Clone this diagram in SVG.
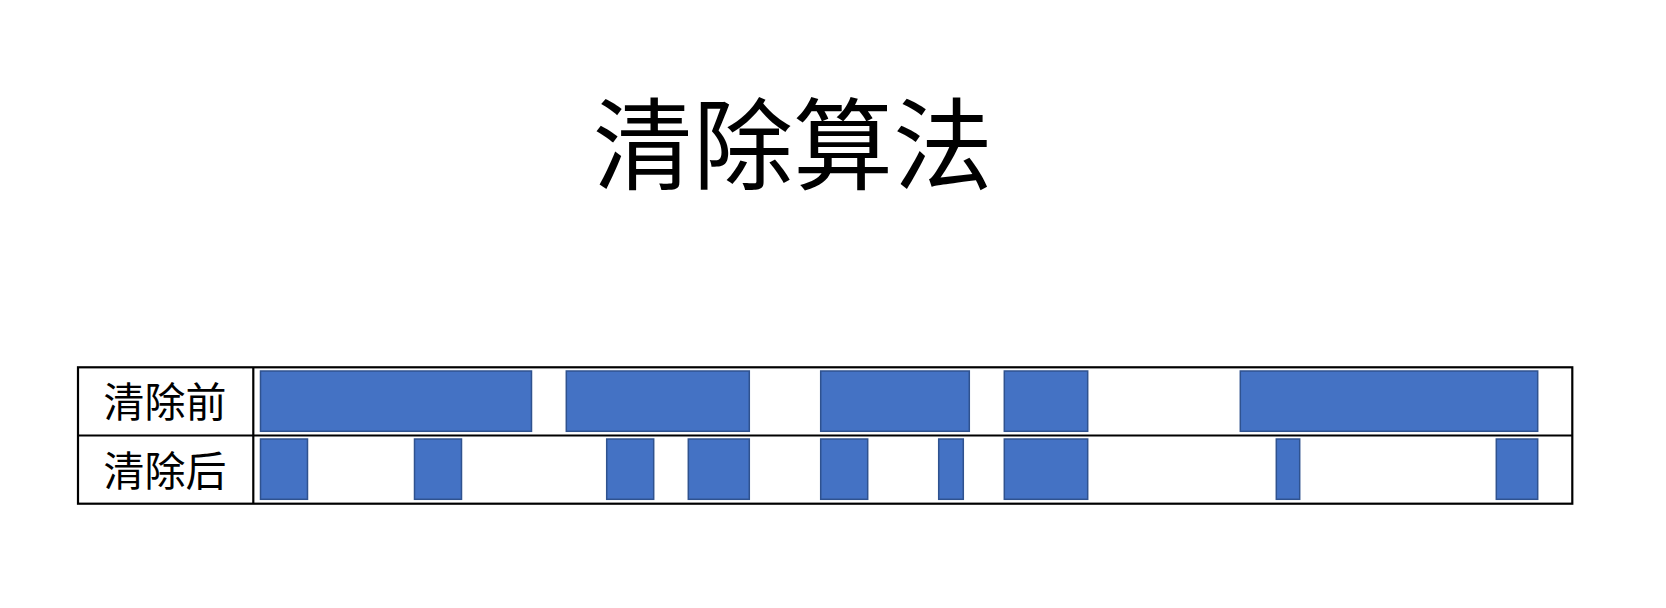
<svg xmlns="http://www.w3.org/2000/svg" width="1666" height="608" viewBox="0 0 1666 608">
<style>
.blk{fill:#4472C4;stroke:#2F528F;stroke-width:1.5}
.grid{stroke:#000;stroke-width:2.2;fill:none}
.t{font-family:"Noto Sans CJK SC","Noto Sans CJK JP",sans-serif;fill:#000}
</style>
<rect width="1666" height="608" fill="#fff"/>
<g id="title"><text class="t" x="793" y="182" font-size="100" text-anchor="middle">清除算法</text></g>
<g id="table">
<rect class="grid" x="78" y="367.3" width="1494.3" height="136.4"/>
<line class="grid" x1="78" y1="435.5" x2="1572.3" y2="435.5"/>
<line class="grid" x1="253.3" y1="367.3" x2="253.3" y2="503.7"/>
</g>
<g id="label-before"><text class="t" x="165" y="417" font-size="41" text-anchor="middle">清除前</text></g>
<g id="label-after"><text class="t" x="165" y="486" font-size="41" text-anchor="middle">清除后</text></g>
<g id="before-blocks">
<rect class="blk" x="260.5" y="371" width="271" height="60.3"/>
<rect class="blk" x="566.3" y="371" width="183" height="60.3"/>
<rect class="blk" x="820.7" y="371" width="148.6" height="60.3"/>
<rect class="blk" x="1004.3" y="371" width="83.4" height="60.3"/>
<rect class="blk" x="1240.3" y="371" width="297.4" height="60.3"/>
</g>
<g id="after-blocks">
<rect class="blk" x="260.5" y="439" width="47" height="60.3"/>
<rect class="blk" x="414.5" y="439" width="47" height="60.3"/>
<rect class="blk" x="606.7" y="439" width="47" height="60.3"/>
<rect class="blk" x="688.3" y="439" width="61" height="60.3"/>
<rect class="blk" x="820.7" y="439" width="47" height="60.3"/>
<rect class="blk" x="938.7" y="439" width="24.6" height="60.3"/>
<rect class="blk" x="1004.3" y="439" width="83.4" height="60.3"/>
<rect class="blk" x="1276.3" y="439" width="23.4" height="60.3"/>
<rect class="blk" x="1496.3" y="439" width="41.4" height="60.3"/>
</g>
<g id="connectors"/>
</svg>
